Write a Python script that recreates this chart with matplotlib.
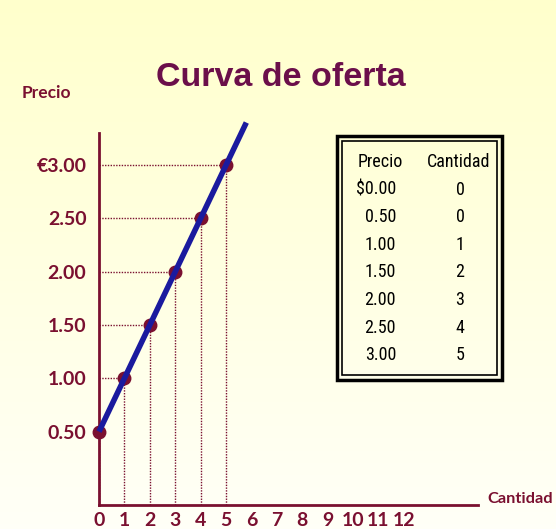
import numpy as np
import matplotlib
matplotlib.use("Agg")
import matplotlib.pyplot as plt
from matplotlib.patches import Rectangle

# ---- data ----
cantidad = [0, 1, 2, 3, 4, 5]
precio = [0.50, 1.00, 1.50, 2.00, 2.50, 3.00]
line_q = [0, 5.8]
line_p = [0.50, 3.40]
x_ticks = list(range(0, 13))
x_tick_labels = [str(v) for v in x_ticks]
y_ticks = [0.50, 1.00, 1.50, 2.00, 2.50, 3.00]
y_tick_labels = ["0.50", "1.00", "1.50", "2.00", "2.50", "€3.00"]
table_header = ["Precio", "Cantidad"]
table_precio = ["$0.00", "0.50", "1.00", "1.50", "2.00", "2.50", "3.00"]
table_cantidad = ["0", "0", "1", "2", "3", "4", "5"]
title = "Curva de oferta"

W, H = 556, 529
fig = plt.figure(figsize=(W / 100, H / 100), dpi=100)

# background gradient
bg = fig.add_axes([0, 0, 1, 1], zorder=-10)
grad = np.linspace(0, 1, 256).reshape(-1, 1)
top = np.array([1.0, 1.0, 0.80])
bot = np.array([1.0, 1.0, 0.97])
img = top[None, None, :] * (1 - grad[:, :, None]) + bot[None, None, :] * grad[:, :, None]
bg.imshow(img, aspect="auto", extent=[0, 1, 0, 1])
bg.set_xlim(0, 1); bg.set_ylim(0, 1)
bg.axis("off")

maroon = "#7A1030"
fontb = ["Lato", "DejaVu Sans"]

def fx(px):
    return px / W

def fy(py):
    return 1 - py / H

ax_left, ax_right, ax_top, ax_bot = 99, 478, 133, 505
ax = fig.add_axes([fx(ax_left), fy(ax_bot), fx(ax_right) - fx(ax_left), fy(ax_top) - fy(ax_bot)])
ax.patch.set_alpha(0)
ppu_x = 25.4
ax.set_xlim(0, (ax_right - ax_left) / ppu_x)
p_per_px = 0.5 / 53
ax.set_ylim(0.5 - (ax_bot - 432) * p_per_px, 3.0 + (165 - ax_top) * p_per_px)

for s in ["top", "right"]:
    ax.spines[s].set_visible(False)
for s in ["left", "bottom"]:
    ax.spines[s].set_color(maroon)
    ax.spines[s].set_linewidth(2)

ax.set_xticks(x_ticks)
ax.set_xticklabels(x_tick_labels, fontsize=14, fontweight="bold", color=maroon, family=fontb)
ax.set_yticks(y_ticks)
ax.set_yticklabels(y_tick_labels, fontsize=14, fontweight="bold", color=maroon, family=fontb)
ax.tick_params(axis="x", length=0, pad=5)
ax.tick_params(axis="y", length=0, pad=9)

# dotted guides
ymin = ax.get_ylim()[0]
for q, p in zip(cantidad, precio):
    ax.plot([0, q], [p, p], linestyle=(0, (1, 1)), color=maroon, lw=1.0, zorder=1)
    ax.plot([q, q], [ymin, p], linestyle=(0, (1, 1)), color=maroon, lw=1.0, zorder=1)

ax.plot(cantidad, precio, "o", color="#7A1030", markersize=9, zorder=2, clip_on=False)
ax.plot(line_q, line_p, color="#1A1A9E", lw=4, solid_capstyle="butt", zorder=3, clip_on=False)

# titles and axis labels
fig.text(fx(281), fy(77), title, ha="center", va="center", fontsize=24.5, fontweight="bold",
         color="#6B0F4A", family=["Liberation Sans", "DejaVu Sans"])
fig.text(fx(22), fy(93), "Precio", ha="left", va="center", fontsize=12.5, fontweight="bold",
         color=maroon, family=fontb)
fig.text(fx(487), fy(499), "Cantidad", ha="left", va="center", fontsize=11.8, fontweight="bold",
         color=maroon, family=fontb)

# table box
bx0, by0, bx1, by1 = 337, 136, 502, 380
fig.patches.append(Rectangle((fx(bx0), fy(by1)), fx(bx1) - fx(bx0), fy(by0) - fy(by1),
                             transform=fig.transFigure, fill=False, edgecolor="black", lw=2.5))
ins = 5
fig.patches.append(Rectangle((fx(bx0 + ins), fy(by1 - ins)), fx(bx1 - bx0 - 2 * ins), fy(by0 + ins) - fy(by1 - ins),
                             transform=fig.transFigure, fill=False, edgecolor="black", lw=1.2))

tfont = ["Roboto Condensed", "Noto Sans", "DejaVu Sans"]
row_y0, row_dy = 162, 27.6
fs_t = 13
fig.text(fx(380), fy(row_y0), table_header[0], ha="center", va="center", fontsize=fs_t, family=tfont)
fig.text(fx(459), fy(row_y0), table_header[1], ha="center", va="center", fontsize=fs_t, family=tfont)
for i, (pr, ca) in enumerate(zip(table_precio, table_cantidad)):
    y = row_y0 + (i + 1) * row_dy
    fig.text(fx(396), fy(y), pr, ha="right", va="center", fontsize=fs_t, family=tfont)
    fig.text(fx(460), fy(y), ca, ha="center", va="center", fontsize=fs_t, family=tfont)

fig.savefig("out.png", dpi=100)
